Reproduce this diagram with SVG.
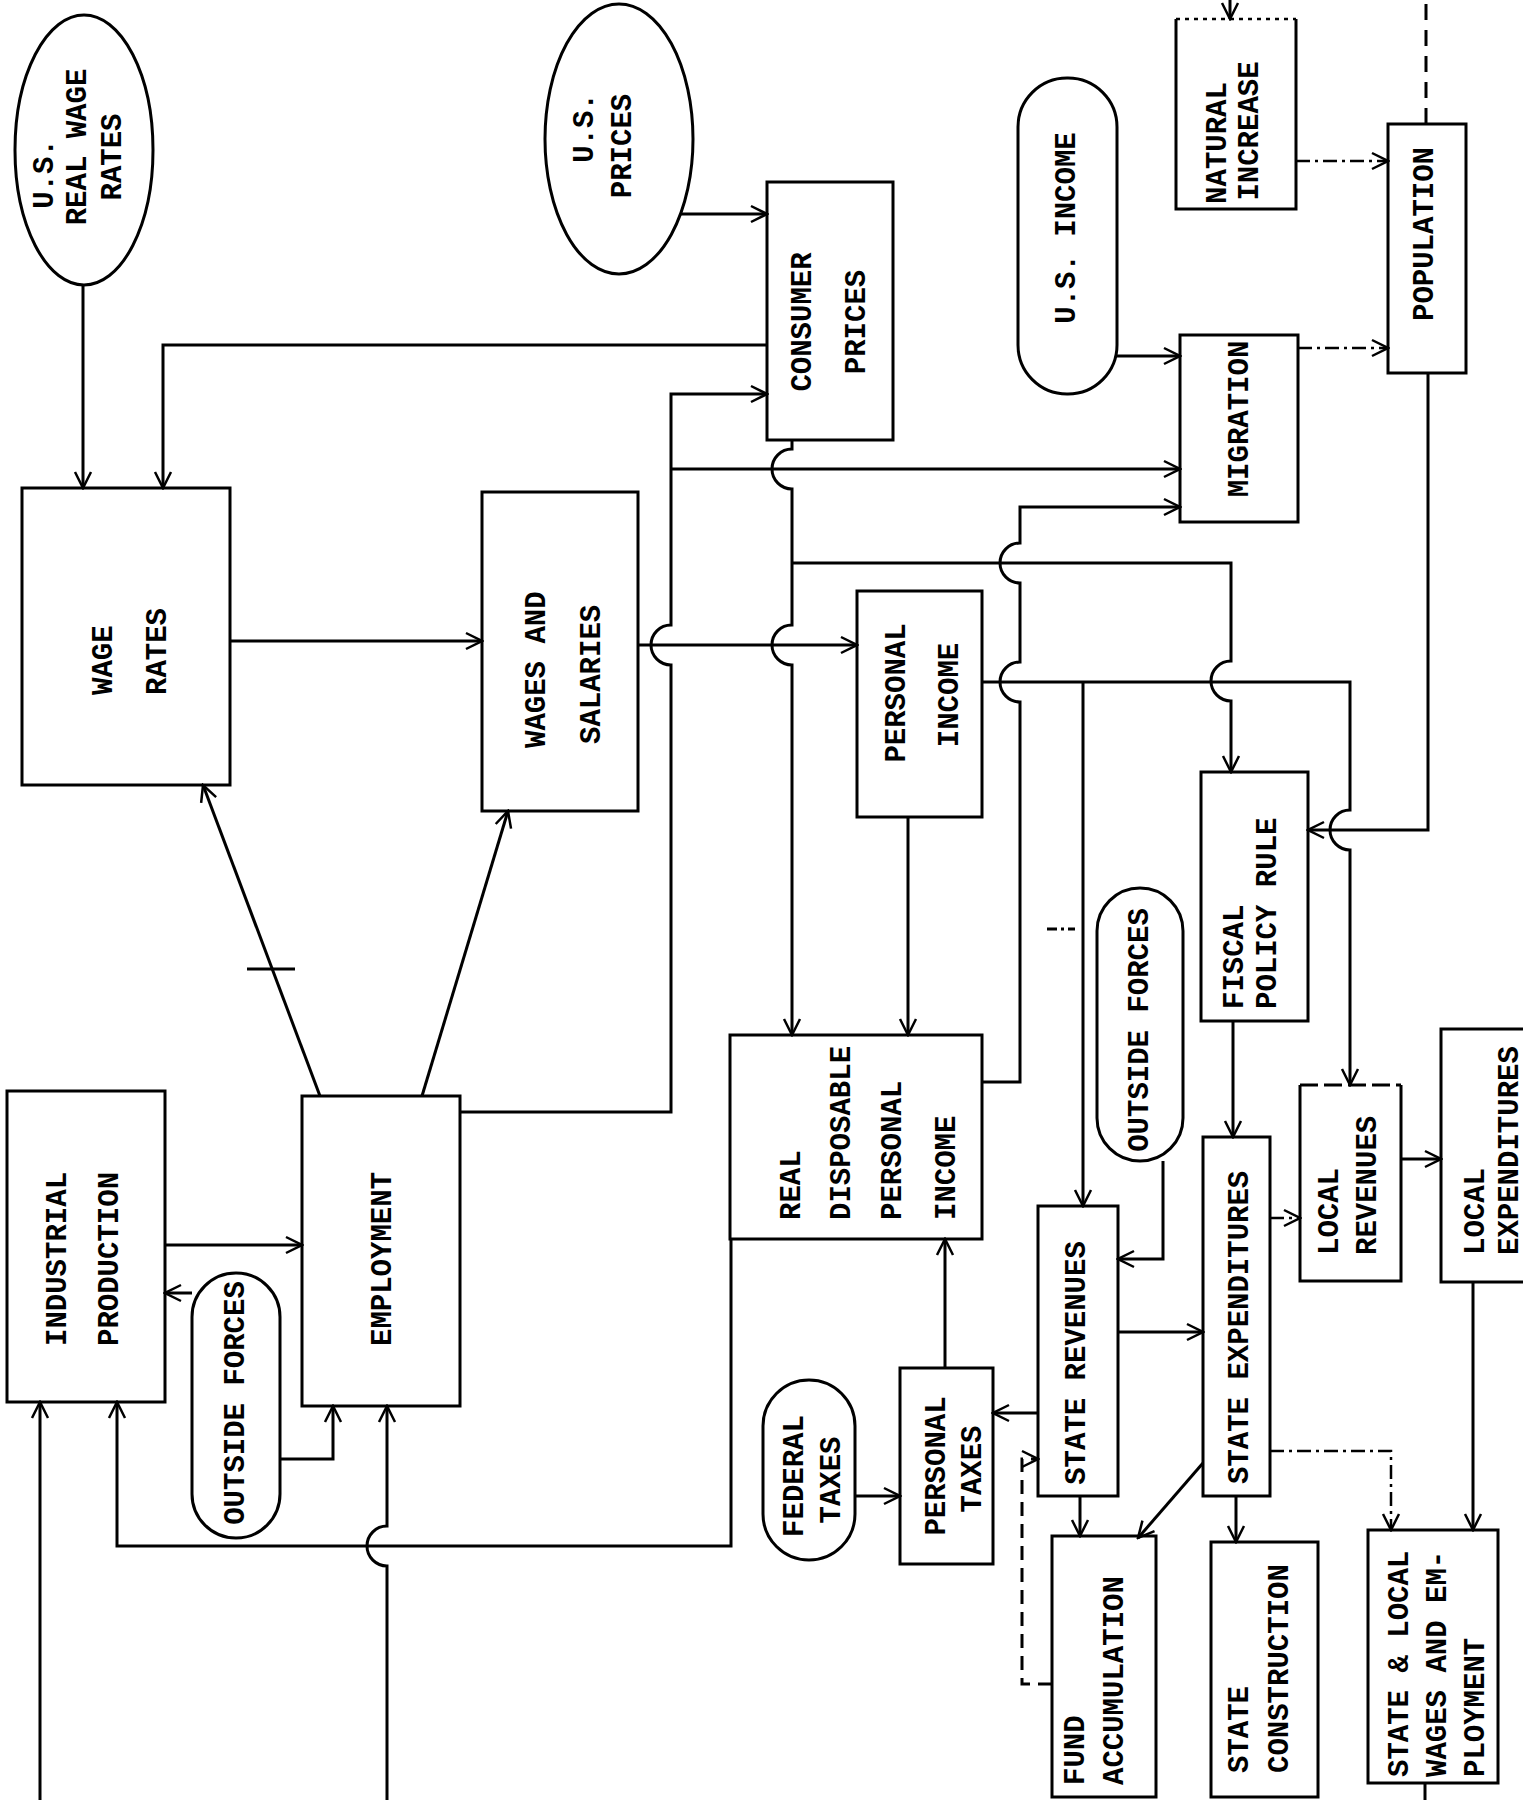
<svg xmlns="http://www.w3.org/2000/svg" width="1523" height="1800" viewBox="0 0 1523 1800">
<style>
.bx{fill:none;stroke:#000;stroke-width:3}
.ln{fill:none;stroke:#000;stroke-width:3;marker-end:url(#ah)}
.pl{fill:none;stroke:#000;stroke-width:3}
.dl{fill:none;stroke:#000;stroke-width:3;stroke-dasharray:14 8;marker-end:url(#ah)}
.dd{fill:none;stroke:#000;stroke-width:2.5;stroke-dasharray:14 5 3 5;marker-end:url(#ah)}
.dot{fill:none;stroke:#000;stroke-width:2.5;stroke-dasharray:4 5}
.t{font-family:"Liberation Mono",monospace;font-size:29px;font-weight:bold;text-anchor:middle;dominant-baseline:central;fill:#000}
.s{font-family:"Liberation Mono",monospace;font-size:29px;font-weight:bold;text-anchor:start;dominant-baseline:central;fill:#000}
</style>
<defs>
<marker id="ah" viewBox="0 0 20 20" refX="18" refY="10" markerWidth="20" markerHeight="20" markerUnits="userSpaceOnUse" orient="auto">
<path d="M2,2 L18,10 L2,18" fill="none" stroke="#000" stroke-width="2.5"/>
</marker>
</defs>
<rect width="1523" height="1800" fill="#fff"/>

<g id="us-real-wage-rates">
<ellipse class="bx" cx="84" cy="150" rx="69" ry="135"/>
<text class="t" transform="translate(45,174) rotate(-90)">U.S.</text>
<text class="t" transform="translate(78,147) rotate(-90)">REAL WAGE</text>
<text class="t" transform="translate(113,157) rotate(-90)">RATES</text>
</g>
<g id="us-prices">
<ellipse class="bx" cx="619" cy="139" rx="74" ry="135"/>
<text class="t" transform="translate(585,128) rotate(-90)">U.S.</text>
<text class="t" transform="translate(623,146) rotate(-90)">PRICES</text>
</g>
<g id="consumer-prices">
<rect class="bx" x="767" y="182" width="126" height="258"/>
<text class="t" transform="translate(803,322) rotate(-90)">CONSUMER</text>
<text class="t" transform="translate(857,322) rotate(-90)">PRICES</text>
</g>
<g id="us-income">
<rect class="bx" x="1018" y="78" width="99" height="316" rx="49"/>
<text class="t" transform="translate(1067,228) rotate(-90)">U.S. INCOME</text>
</g>
<g id="natural-increase">
<path class="bx" d="M1176,19 L1176,209 L1296,209 L1296,19"/>
<path class="dot" d="M1176,19 L1296,19"/>
<text class="t" transform="translate(1218,143) rotate(-90)">NATURAL</text>
<text class="t" transform="translate(1250,131) rotate(-90)">INCREASE</text>
</g>
<g id="population">
<rect class="bx" x="1388" y="124" width="78" height="249"/>
<text class="t" transform="translate(1425,234) rotate(-90)">POPULATION</text>
</g>
<g id="migration">
<rect class="bx" x="1180" y="335" width="118" height="187"/>
<text class="t" transform="translate(1240,419) rotate(-90)">MIGRATION</text>
</g>
<g id="wage-rates">
<rect class="bx" x="22" y="488" width="208" height="297"/>
<text class="s" transform="translate(104,695) rotate(-90)">WAGE</text>
<text class="s" transform="translate(158,695) rotate(-90)">RATES</text>
</g>
<g id="wages-and-salaries">
<rect class="bx" x="482" y="492" width="156" height="319"/>
<text class="s" transform="translate(537,748) rotate(-90)">WAGES AND</text>
<text class="s" transform="translate(592,744) rotate(-90)">SALARIES</text>
</g>
<g id="personal-income">
<rect class="bx" x="857" y="591" width="125" height="226"/>
<text class="t" transform="translate(897,693) rotate(-90)">PERSONAL</text>
<text class="t" transform="translate(950,695) rotate(-90)">INCOME</text>
</g>
<g id="real-disposable-personal-income">
<rect class="bx" x="730" y="1035" width="252" height="204"/>
<text class="s" transform="translate(792,1220) rotate(-90)">REAL</text>
<text class="s" transform="translate(842,1220) rotate(-90)">DISPOSABLE</text>
<text class="s" transform="translate(893,1220) rotate(-90)">PERSONAL</text>
<text class="s" transform="translate(947,1220) rotate(-90)">INCOME</text>
</g>
<g id="industrial-production">
<rect class="bx" x="7" y="1091" width="158" height="311"/>
<text class="s" transform="translate(58,1346) rotate(-90)">INDUSTRIAL</text>
<text class="s" transform="translate(110,1346) rotate(-90)">PRODUCTION</text>
</g>
<g id="employment">
<rect class="bx" x="302" y="1096" width="158" height="310"/>
<text class="s" transform="translate(383,1346) rotate(-90)">EMPLOYMENT</text>
</g>
<g id="outside-forces-1">
<rect class="bx" x="192" y="1273" width="88" height="265" rx="44"/>
<text class="t" transform="translate(236,1403) rotate(-90)">OUTSIDE FORCES</text>
</g>
<g id="outside-forces-2">
<rect class="bx" x="1097" y="888" width="86" height="273" rx="43"/>
<text class="t" transform="translate(1140,1030) rotate(-90)">OUTSIDE FORCES</text>
</g>
<g id="fiscal-policy-rule">
<rect class="bx" x="1201" y="772" width="107" height="249"/>
<text class="s" transform="translate(1235,1009) rotate(-90)">FISCAL</text>
<text class="s" transform="translate(1268,1009) rotate(-90)">POLICY RULE</text>
</g>
<g id="state-revenues">
<rect class="bx" x="1038" y="1206" width="80" height="290"/>
<text class="t" transform="translate(1077,1363) rotate(-90)">STATE REVENUES</text>
</g>
<g id="state-expenditures">
<rect class="bx" x="1203" y="1137" width="67" height="359"/>
<text class="s" transform="translate(1240,1484) rotate(-90)">STATE EXPENDITURES</text>
</g>
<g id="federal-taxes">
<rect class="bx" x="763" y="1380" width="92" height="180" rx="46"/>
<text class="t" transform="translate(795,1476) rotate(-90)">FEDERAL</text>
<text class="t" transform="translate(832,1480) rotate(-90)">TAXES</text>
</g>
<g id="personal-taxes">
<rect class="bx" x="900" y="1368" width="93" height="196"/>
<text class="t" transform="translate(937,1466) rotate(-90)">PERSONAL</text>
<text class="t" transform="translate(973,1469) rotate(-90)">TAXES</text>
</g>
<g id="local-revenues">
<path class="bx" d="M1300,1085 L1300,1281 L1401,1281 L1401,1085"/>
<path class="pl" style="stroke-dasharray:18 6" d="M1300,1085 L1401,1085"/>
<text class="s" transform="translate(1330,1255) rotate(-90)">LOCAL</text>
<text class="s" transform="translate(1368,1255) rotate(-90)">REVENUES</text>
</g>
<g id="local-expenditures">
<rect class="bx" x="1441" y="1029" width="100" height="253"/>
<text class="s" transform="translate(1476,1255) rotate(-90)">LOCAL</text>
<text class="s" transform="translate(1510,1255) rotate(-90)">EXPENDITURES</text>
</g>
<g id="fund-accumulation">
<rect class="bx" x="1052" y="1536" width="104" height="261"/>
<text class="s" transform="translate(1076,1785) rotate(-90)">FUND</text>
<text class="s" transform="translate(1115,1785) rotate(-90)">ACCUMULATION</text>
</g>
<g id="state-construction">
<rect class="bx" x="1211" y="1542" width="107" height="255"/>
<text class="s" transform="translate(1240,1773) rotate(-90)">STATE</text>
<text class="s" transform="translate(1280,1773) rotate(-90)">CONSTRUCTION</text>
</g>
<g id="state-local-wages-employment">
<rect class="bx" x="1368" y="1530" width="130" height="253"/>
<text class="s" transform="translate(1400,1777) rotate(-90)">STATE &amp; LOCAL</text>
<text class="s" transform="translate(1438,1777) rotate(-90)">WAGES AND EM-</text>
<text class="s" transform="translate(1476,1777) rotate(-90)">PLOYMENT</text>
</g>

<g id="connectors">
<path class="ln" d="M83,285 L83,488"/>
<path class="ln" d="M767,345 L163,345 L163,488"/>
<path class="ln" d="M680,214 L767,214"/>
<path class="ln" d="M230,641 L482,641"/>
<path class="ln" d="M320,1096 L203,785"/>
<path class="ln" d="M422,1096 L508,811"/>
<path class="ln" d="M165,1245 L302,1245"/>
<path class="ln" d="M192,1293 L165,1293"/>
<path class="ln" d="M280,1459 L333,1459 L333,1406"/>
<path class="ln" d="M40,1800 L40,1402"/>
<path class="ln" d="M387,1800 L387,1566 A20,20 0 0 1 387,1526 L387,1406"/>
<path class="ln" d="M731,1239 L731,1546 L117,1546 L117,1402"/>
<path class="ln" d="M460,1112 L671,1112 L671,665 A20,20 0 0 1 671,625 L671,394 L767,394"/>
<path class="ln" d="M671,469 L1180,469"/>
<path class="ln" d="M638,645 L857,645"/>
<path class="ln" d="M792,440 L792,449 A20,20 0 0 0 792,489 L792,625 A20,20 0 0 0 792,665 L792,1035"/>
<path class="ln" d="M792,563 L1231,563 L1231,661 A20,20 0 0 0 1231,701 L1231,772"/>
<path class="ln" d="M908,817 L908,1035"/>
<path class="ln" d="M982,1082 L1020,1082 L1020,702 A20,20 0 0 1 1020,662 L1020,583 A20,20 0 0 1 1020,543 L1020,507 L1180,507"/>
<path class="ln" d="M982,682 L1350,682 L1350,810 A20,20 0 0 0 1350,850 L1350,1085"/>
<path class="ln" d="M1083,682 L1083,1206"/>
<path class="ln" d="M1428,373 L1428,830 L1308,830"/>
<path class="dd" d="M1296,161 L1388,161"/>
<path class="dd" d="M1298,348 L1388,348"/>
<path class="pl" style="stroke-dasharray:16 10" d="M1426,124 L1426,0"/>
<path class="ln" d="M1230,0 L1230,19"/>
<path class="ln" d="M1115,356 L1180,356"/>
<path class="ln" d="M1233,1021 L1233,1137"/>
<path class="ln" d="M1163,1161 L1163,1259 L1118,1259"/>
<path class="ln" d="M1038,1413 L993,1413"/>
<path class="ln" d="M855,1496 L900,1496"/>
<path class="ln" d="M945,1368 L945,1239"/>
<path class="ln" d="M1118,1332 L1203,1332"/>
<path class="ln" d="M1080,1496 L1080,1536"/>
<path class="dl" d="M1052,1684 L1022,1684 L1022,1459 L1038,1459"/>
<path class="ln" d="M1203,1463 L1138,1538"/>
<path class="ln" d="M1236,1496 L1236,1542"/>
<path class="dd" d="M1270,1451 L1391,1451 L1391,1530"/>
<path class="ln" d="M1473,1282 L1473,1530"/>
<path class="pl" d="M1425,1783 L1425,1800"/>
<path class="dd" d="M1270,1218 L1300,1218"/>
<path class="ln" d="M1401,1159 L1441,1159"/>
<path class="pl" style="stroke-dasharray:10 4 3 4" d="M1047,929 L1075,929"/>
<path class="pl" d="M247,969 L295,969"/>
</g>
</svg>
